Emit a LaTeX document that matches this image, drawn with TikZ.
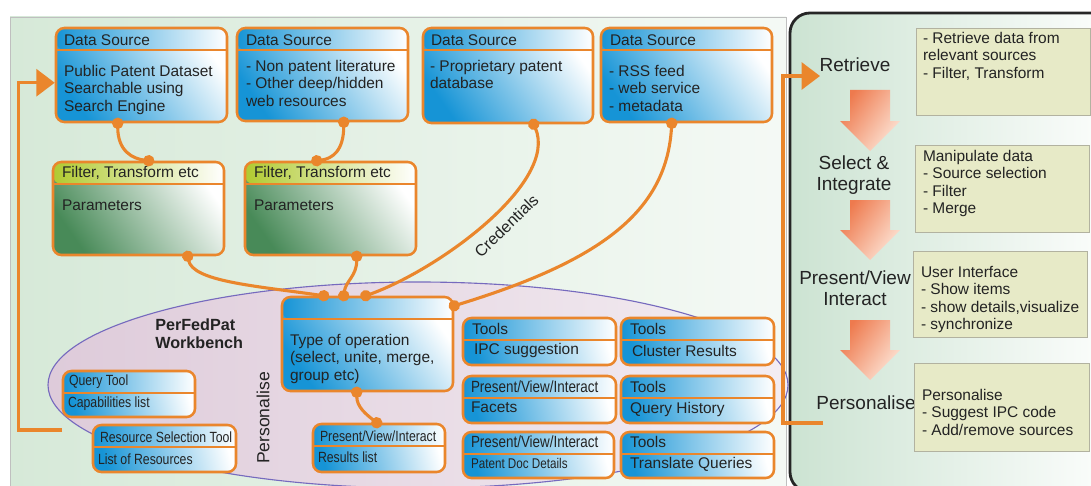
\documentclass[tikz,border=0pt]{standalone}
\usepackage{fontspec}
\setmainfont{Liberation Sans}
\newfontfamily\narrowfont[FakeStretch=0.83]{Liberation Sans}
\usepackage{tikz}
\usetikzlibrary{positioning, arrows.meta, fit, calc}

\definecolor{PFOrange}{RGB}{234,134,44}
\definecolor{PFBlue}{RGB}{22,148,214}
\definecolor{PFGreen}{RGB}{72,138,88}
\definecolor{PFLime}{RGB}{176,202,48}
\definecolor{PFPanel}{RGB}{214,233,216}
\definecolor{PFRight}{RGB}{204,227,210}
\definecolor{PFBench}{RGB}{222,203,218}
\definecolor{PFBenchLine}{RGB}{118,106,190}
\definecolor{PFDesc}{RGB}{231,234,199}
\definecolor{PFDescLine}{RGB}{178,178,160}
\definecolor{PFArrow}{RGB}{238,122,78}
\definecolor{PFArrowLight}{RGB}{253,228,214}
\definecolor{PFText}{RGB}{35,35,35}

\tikzset{
  pfbox/.style={draw=PFOrange, line width=1.8pt, rounded corners=6pt, inner sep=0pt,
    top color=white, bottom color=#1, shading angle=-55},
  pfbox/.default=PFBlue,
  strip/.style={path picture={
    \shade[left color=#1, right color=white]
      (path picture bounding box.north west) rectangle ([yshift=-0.55cm]path picture bounding box.north east);
    \draw[PFOrange, line width=1.6pt]
      ([yshift=-0.55cm]path picture bounding box.north west) -- ([yshift=-0.55cm]path picture bounding box.north east);}},
  strip/.default=PFBlue,
  ttl/.style={anchor=west, inner sep=0pt, text=PFText, font=\fontsize{11}{13}\selectfont},
  body/.style={anchor=north west, inner sep=0pt, align=left, text=PFText, font=\fontsize{11}{12.6}\selectfont},
  nttl/.style={anchor=west, inner sep=0pt, text=PFText, font=\narrowfont\fontsize{10.5}{12}\selectfont},
  link/.style={PFOrange, line width=2.2pt, shorten <=-4pt, shorten >=-4pt,
    {Circle[length=8pt]}-{Circle[length=8pt]}},
  fb/.style={PFOrange, line width=2.4pt, -{Triangle[length=13pt, width=19pt]}},
  stage/.style={align=center, text=PFText, font=\fontsize{13.5}{15}\selectfont},
  stagearrow/.style={top color=PFArrow, bottom color=PFArrowLight, shading angle=55},
  desc/.style={draw=PFDescLine, fill=PFDesc, inner sep=0pt},
  desctxt/.style={anchor=north west, inner sep=0pt, align=left, text=PFText, font=\fontsize{11}{12.4}\selectfont}
}

\begin{document}
\begin{tikzpicture}[x=0.025cm, y=-0.025cm]
\useasboundingbox (0,0) rectangle (1091,486);
\clip (0,0) rectangle (1091,486);

% panels
\shade[left color=PFPanel, right color=PFPanel!25!white, draw=gray!50] (10,17) rectangle (786,500);
\draw[black!85, line width=2pt, rounded corners=0.5cm, left color=PFRight, right color=white] (790,13) rectangle (1130,492);
\draw[PFBenchLine, line width=0.8pt, left color=PFBench, right color=PFBench!35!white] (418,385) ellipse [x radius=370, y radius=103];

% data sources
\node[pfbox, strip, fit={(56,28) (227,122)}] (ds1) {};
\node[ttl] at ($(ds1.north west)+(9,13)$) {Data Source};
\node[body] at ($(ds1.north west)+(9,38)$) {Public Patent Dataset\\Searchable using\\Search Engine};

\node[pfbox, strip, fit={(237,28) (408,121)}] (ds2) {};
\node[ttl] at ($(ds2.north west)+(10,13)$) {Data Source};
\node[body] at ($(ds2.north west)+(10,33)$) {- Non patent literature\\- Other deep/hidden\\web resources};

\node[pfbox, strip, fit={(423,28) (593,123)}] (ds3) {};
\node[ttl] at ($(ds3.north west)+(9,13)$) {Data Source};
\node[body] at ($(ds3.north west)+(8,33)$) {- Proprietary patent\\database};

\node[pfbox, strip, fit={(601,28) (772,122)}] (ds4) {};
\node[ttl] at ($(ds4.north west)+(10,13)$) {Data Source};
\node[body] at ($(ds4.north west)+(9,38)$) {- RSS feed\\- web service\\- metadata};

% filters
\node[pfbox=PFGreen, strip=PFLime, fit={(53,162) (224,255)}] (f1) {};
\node[ttl] at ($(f1.north west)+(10,12)$) {Filter, Transform etc};
\node[body] at ($(f1.north west)+(10,39)$) {Parameters};

\node[pfbox=PFGreen, strip=PFLime, fit={(245,162) (416,255)}] (f2) {};
\node[ttl] at ($(f2.north west)+(10,12)$) {Filter, Transform etc};
\node[body] at ($(f2.north west)+(10,39)$) {Parameters};

% workbench
\node[anchor=west, align=left, inner sep=0pt, text=PFText, font=\bfseries\fontsize{11.5}{12.5}\selectfont] (wbname) at (155,334) {PerFedPat\\Workbench};
\node[rotate=90, inner sep=0pt, text=PFText, font=\fontsize{12.5}{14}\selectfont] (perslbl) at (263,418) {Personalise};

\node[pfbox, strip, fit={(282,297) (453,391)}] (op) {};
\node[body] at ($(op.north west)+(9,38)$) {Type of operation\\(select, unite, merge,\\group etc)};

\node[pfbox, shading angle=-75, strip, fit={(63,371) (195,417)}] (qt) {};
\node[nttl] at ($(qt.north west)+(7,12)$) {Query Tool};
\node[nttl] at ($(qt.north west)+(6,34)$) {Capabilities list};

\node[pfbox, shading angle=-75, strip, fit={(93,425) (236,472)}] (rs) {};
\node[nttl] at ($(rs.north west)+(8,13)$) {Resource Selection Tool};
\node[nttl] at ($(rs.north west)+(6,35)$) {List of Resources};

\node[pfbox, shading angle=-75, strip, fit={(313,424) (445,472)}] (res) {};
\node[nttl] at ($(res.north west)+(8,13)$) {Present/View/Interact};
\node[nttl] at ($(res.north west)+(6,34)$) {Results list};

\node[pfbox, shading angle=-75, strip, fit={(463,318) (616,365)}] (ipc) {};
\node[ttl] at ($(ipc.north west)+(10,12)$) {Tools};
\node[ttl] at ($(ipc.north west)+(12,34)$) {IPC suggestion};

\node[pfbox, shading angle=-75, strip, fit={(621,318) (774,365)}] (clu) {};
\node[ttl] at ($(clu.north west)+(10,12)$) {Tools};
\node[ttl] at ($(clu.north west)+(12,34)$) {Cluster Results};

\node[pfbox, shading angle=-75, strip, fit={(463,376) (616,423)}] (fac) {};
\node[nttl, font=\narrowfont\fontsize{11.5}{13}\selectfont] at ($(fac.north west)+(9,12)$) {Present/View/Interact};
\node[ttl] at ($(fac.north west)+(9,33)$) {Facets};

\node[pfbox, shading angle=-75, strip, fit={(621,376) (774,423)}] (qh) {};
\node[ttl] at ($(qh.north west)+(10,12)$) {Tools};
\node[ttl] at ($(qh.north west)+(10,35)$) {Query History};

\node[pfbox, shading angle=-75, strip, fit={(463,432) (614,478)}] (pdd) {};
\node[nttl, font=\narrowfont\fontsize{11.5}{13}\selectfont] at ($(pdd.north west)+(9,11)$) {Present/View/Interact};
\node[nttl, font=\narrowfont\fontsize{10}{12}\selectfont] at ($(pdd.north west)+(9,33)$) {Patent Doc Details};

\node[pfbox, shading angle=-75, strip, fit={(621,432) (774,478)}] (tq) {};
\node[ttl] at ($(tq.north west)+(10,11)$) {Tools};
\node[ttl] at ($(tq.north west)+(10,34)$) {Translate Queries};

% connectors
\draw[link] ($(ds1.south west)+(63,0)$) .. controls +(0,28) and +(-16,-2) .. ($(f1.north west)+(97,0)$);
\draw[link] ($(ds2.south west)+(108,0)$) .. controls +(0,28) and +(16,-2) .. ($(f2.north west)+(73,0)$);
\draw[link] ($(f1.south west)+(136,0)$) .. controls +(5,25) and +(-70,-10) .. ($(op.north west)+(43,0)$);
\draw[link] ($(f2.south west)+(113,0)$) .. controls +(0,20) and +(2,-15) .. ($(op.north west)+(63,0)$);
\draw[link] ($(ds3.south west)+(112,0)$) .. controls +(25,58) and +(73,-26) .. ($(op.north west)+(85,0)$)
  node[sloped, below=3pt, pos=0.46, text=PFText, font=\fontsize{11.5}{13}\selectfont] (cred) {Credentials};
\draw[link] ($(ds4.south west)+(72,0)$) .. controls +(-5,88) and +(147,-45) .. ($(op.north east)+(0,10)$);
\draw[link] ($(op.south west)+(76,0)$) .. controls +(0,15) and +(-10,-8) .. ($(res.north west)+(65,0)$);

% right panel
\node[stage] (retr) at (855,65) {Retrieve};
\node[stage] (selint) at (854,175) {Select \&\\Integrate};
\node[stage] (pvi) at (855,288) {Present/View\\Interact};
\node[stage] (pers) at (866,403) {Personalise};
\shade[stagearrow] (850,90) -- (890,90) -- (890,121) -- (900,121) -- (870,151) -- (840,121) -- (850,121) -- cycle;
\shade[stagearrow] (850,200) -- (890,200) -- (890,230) -- (900,230) -- (870,260) -- (840,230) -- (850,230) -- cycle;
\shade[stagearrow] (850,320) -- (890,320) -- (890,350) -- (900,350) -- (870,380) -- (840,350) -- (850,350) -- cycle;

\node[desc, fit={(916,28) (1090,115)}] (d1) {};
\node[desctxt] at ($(d1.north west)+(7,4)$) {- Retrieve data from\\relevant sources\\- Filter, Transform};
\node[desc, fit={(915,145) (1089,232)}] (d2) {};
\node[desctxt] at ($(d2.north west)+(8,5)$) {Manipulate data\\- Source selection\\- Filter\\- Merge};
\node[desc, fit={(913,251) (1087,337)}] (d3) {};
\node[desctxt] at ($(d3.north west)+(8,15)$) {User Interface\\- Show items\\- show details,visualize\\- synchronize};
\node[desc, fit={(914,363) (1089,451)}] (d4) {};
\node[desctxt] at ($(d4.north west)+(8,26)$) {Personalise\\- Suggest IPC code\\- Add/remove sources};

% feedback loops
\coordinate (wbend) at (62,430);
\coordinate (ds1in) at ($(ds1.north west)+(0,56)$);
\draw[fb] (wbend) -| ($(ds1in)+(-36,0)$) -- (ds1in);
\coordinate (persout) at (823,423);
\coordinate (retrin) at (820,76);
\draw[fb] (persout) -| ($(retrin)+(-37,0)$) -- (retrin);
\end{tikzpicture}
\end{document}
